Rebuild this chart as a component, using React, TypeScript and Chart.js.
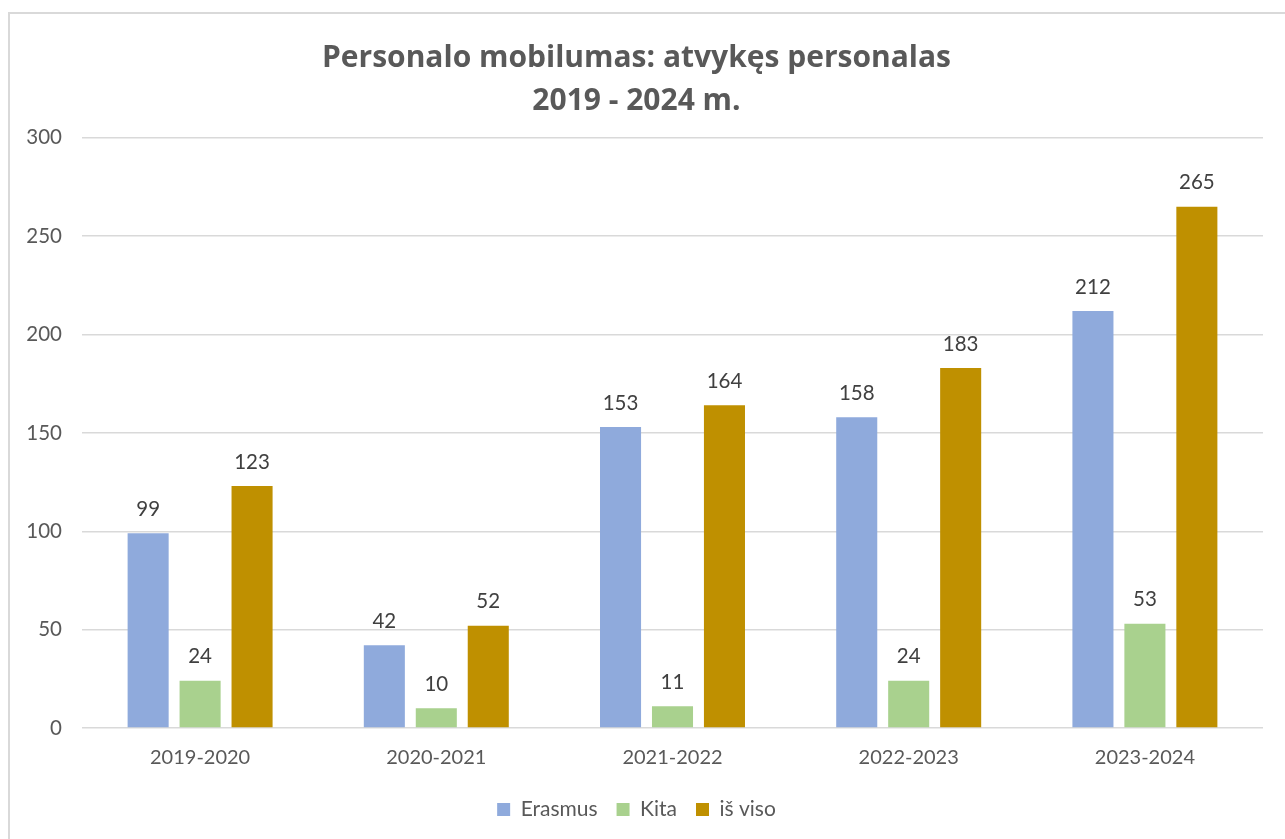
import React, { useEffect, useRef } from "react";
import { Chart, registerables } from "chart.js";

Chart.register(...registerables);

const categories = ["2019-2020", "2020-2021", "2021-2022", "2022-2023", "2023-2024"];
const erasmus = [99, 42, 153, 158, 212];
const kita = [24, 10, 11, 24, 53];
const isViso = [123, 52, 164, 183, 265];
const titleLines = ["Personalo mobilumas: atvykęs personalas", "2019 - 2024 m."];
const seriesNames = ["Erasmus", "Kita", "iš viso"];
const seriesColors = ["#8FAADC", "#A9D18E", "#BF9000"];

const FONT = "Lato, 'Open Sans', sans-serif";

const valueLabels = {
  id: "valueLabels",
  afterDatasetsDraw(chart: any) {
    const ctx = chart.ctx;
    ctx.save();
    ctx.fillStyle = "#404040";
    ctx.font = `20.5px ${FONT}`;
    ctx.textAlign = "center";
    ctx.textBaseline = "middle";
    chart.data.datasets.forEach((ds: any, i: number) => {
      const meta = chart.getDatasetMeta(i);
      meta.data.forEach((bar: any, j: number) => {
        ctx.fillText(String(ds.data[j]), bar.x, bar.y - 24);
      });
    });
    ctx.restore();
  },
};

export default function App() {
  const ref = useRef<HTMLCanvasElement>(null);
  useEffect(() => {
    if (!ref.current) return;
    const chart = new Chart(ref.current, {
      type: "bar",
      data: {
        labels: categories,
        datasets: [erasmus, kita, isViso].map((d, i) => ({
          label: seriesNames[i],
          data: d,
          backgroundColor: seriesColors[i],
          borderWidth: 0,
          categoryPercentage: 0.66,
          barPercentage: 0.79,
        })),
      },
      options: {
        animation: false,
        responsive: false,
        maintainAspectRatio: false,
        layout: { padding: { left: 0, right: 29, top: 0, bottom: 9 } },
        plugins: {
          title: {
            display: true,
            text: titleLines,
            color: "#595959",
            font: { family: "'Open Sans', sans-serif", size: 30, weight: "bold", lineHeight: 1.43 },
            padding: { top: 23, bottom: 15 },
          },
          legend: {
            position: "bottom",
            labels: {
              color: "#595959",
              font: { family: FONT, size: 21 },
              boxWidth: 13,
              boxHeight: 13,
              padding: 19,
            },
          },
          tooltip: { enabled: false },
        },
        scales: {
          x: {
            grid: { display: false },
            border: { display: false },
            ticks: { color: "#595959", font: { family: FONT, size: 20 }, padding: 10 },
          },
          y: {
            min: 0,
            max: 300,
            ticks: { stepSize: 50, color: "#595959", font: { family: FONT, size: 20.5 }, padding: 20 },
            grid: { color: "#d9d9d9", lineWidth: 1.5, drawTicks: false },
            border: { display: false },
            afterFit: (s: any) => {
              s.width = 72;
            },
          },
        },
      },
      plugins: [valueLabels],
    });
    return () => chart.destroy();
  }, []);
  return (
    <div style={{ position: "absolute", left: 8, top: 12, width: 1277, height: 827, overflow: "hidden" }}>
      <div style={{ width: 1286, height: 840, border: "2px solid #d9d9d9", background: "#fff", boxSizing: "border-box" }}>
        <canvas ref={ref} width={1282} height={825} style={{ display: "block" }} />
      </div>
    </div>
  );
}
